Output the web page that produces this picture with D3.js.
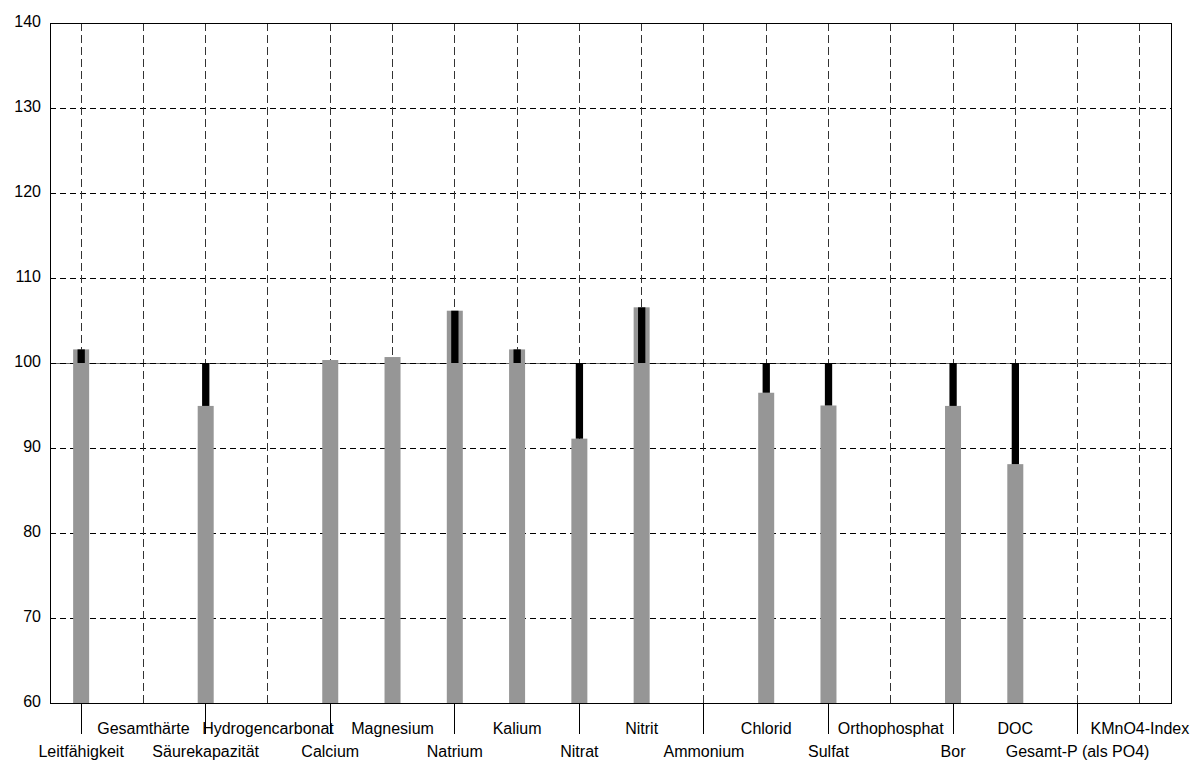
<!DOCTYPE html>
<html>
<head>
<meta charset="utf-8">
<script src="https://cdn.jsdelivr.net/npm/d3@7"></script>
<style>
  html, body { margin: 0; padding: 0; background: #fff; }
  svg { display: block; font-family: "Liberation Sans", Arial, sans-serif; }
</style>
</head>
<body>
<svg id="chart" width="1196" height="760"></svg>
<script>
const categories = ["Leitfähigkeit", "Gesamthärte", "Säurekapazität", "Hydrogencarbonat", "Calcium", "Magnesium",
  "Natrium", "Kalium", "Nitrat", "Nitrit", "Ammonium", "Chlorid", "Sulfat", "Orthophosphat", "Bor", "DOC",
  "Gesamt-P (als PO4)", "KMnO4-Index"];
const values = [101.6, null, 94.95, null, 100.35, 100.7, 106.15, 101.6, 91.1, 106.55, null, 96.5, 95.0, null, 94.95, 88.1, null, null];
const deviation = [101.6, null, 94.95, null, null, null, 106.15, 101.6, 91.1, 106.55, null, 96.5, 95.0, null, 94.95, 88.1, null, null];
const yTicks = [60, 70, 80, 90, 100, 110, 120, 130, 140];
const baseline = 100;

const margin = {left: 50, top: 23, right: 1171, bottom: 703};
const svg = d3.select("#chart");

const x = d3.scaleBand().domain(categories).range([margin.left, margin.right]).padding(0);
const y = d3.scaleLinear().domain([60, 140]).range([margin.bottom, margin.top]);
const cx = c => x(c) + x.bandwidth() / 2;

// horizontal gridlines
const gy = svg.append("g").attr("transform", `translate(${margin.left},0)`)
  .call(d3.axisLeft(y).tickValues(yTicks).tickSize(-(margin.right - margin.left)).tickFormat(""));
gy.select(".domain").remove();
gy.selectAll(".tick line").attr("stroke", "#000").attr("stroke-dasharray", "6,4").attr("shape-rendering", "crispEdges");

// vertical gridlines
const gx = svg.append("g").attr("transform", `translate(0,${margin.top})`)
  .call(d3.axisBottom(x).tickSize(margin.bottom - margin.top).tickFormat(""));
gx.select(".domain").remove();
gx.selectAll(".tick line").attr("stroke", "#333").attr("stroke-dasharray", "8,4").attr("shape-rendering", "crispEdges");

// baseline 100
svg.append("line").attr("x1", margin.left).attr("x2", margin.right)
  .attr("y1", y(baseline)).attr("y2", y(baseline))
  .attr("stroke", "#666").attr("shape-rendering", "crispEdges");
svg.append("line").attr("x1", margin.left).attr("x2", margin.right)
  .attr("y1", y(baseline)).attr("y2", y(baseline))
  .attr("stroke", "#000").attr("stroke-dasharray", "6,4").attr("shape-rendering", "crispEdges");

// gray bars
const idx = d3.range(categories.length);
svg.append("g").selectAll("rect").data(idx.filter(i => values[i] != null)).join("rect")
  .attr("x", i => cx(categories[i]) - 8)
  .attr("width", 16)
  .attr("y", i => y(values[i]))
  .attr("height", i => y(60) - y(values[i]))
  .attr("fill", "#969696");

// black deviation bars
svg.append("g").selectAll("rect").data(idx.filter(i => deviation[i] != null)).join("rect")
  .attr("x", i => cx(categories[i]) - 3.6)
  .attr("width", 7.3)
  .attr("y", i => y(Math.max(deviation[i], baseline)))
  .attr("height", i => Math.abs(y(deviation[i]) - y(baseline)))
  .attr("fill", "#000");

// frame
svg.append("rect").attr("x", margin.left + 0.5).attr("y", margin.top + 0.5)
  .attr("width", margin.right - margin.left).attr("height", margin.bottom - margin.top)
  .attr("fill", "none").attr("stroke", "#000");

// y axis labels
const ya = svg.append("g").attr("transform", `translate(${margin.left},0)`)
  .call(d3.axisLeft(y).tickValues(yTicks).tickSize(0).tickPadding(9));
ya.select(".domain").remove();
ya.selectAll(".tick text").attr("font-size", 16).attr("fill", "#000")
  .attr("font-family", "'Liberation Sans', Arial, sans-serif").attr("dy", "0.2em");

// x axis labels (two staggered rows)
const xa = svg.append("g").attr("transform", `translate(0,${margin.bottom})`)
  .call(d3.axisBottom(x).tickSize(31).tickSizeOuter(0));
xa.select(".domain").remove();
xa.selectAll(".tick").each(function(d, i) {
  const t = d3.select(this);
  const lower = i % 2 === 0;
  t.select("line").attr("stroke", "#000").attr("y2", lower ? 31 : 0).attr("shape-rendering", "crispEdges");
  t.select("text").attr("dy", null).attr("y", lower ? 54 : 31)
    .attr("font-size", 16).attr("fill", "#000")
    .attr("font-family", "'Liberation Sans', Arial, sans-serif");
});
</script>
</body>
</html>
